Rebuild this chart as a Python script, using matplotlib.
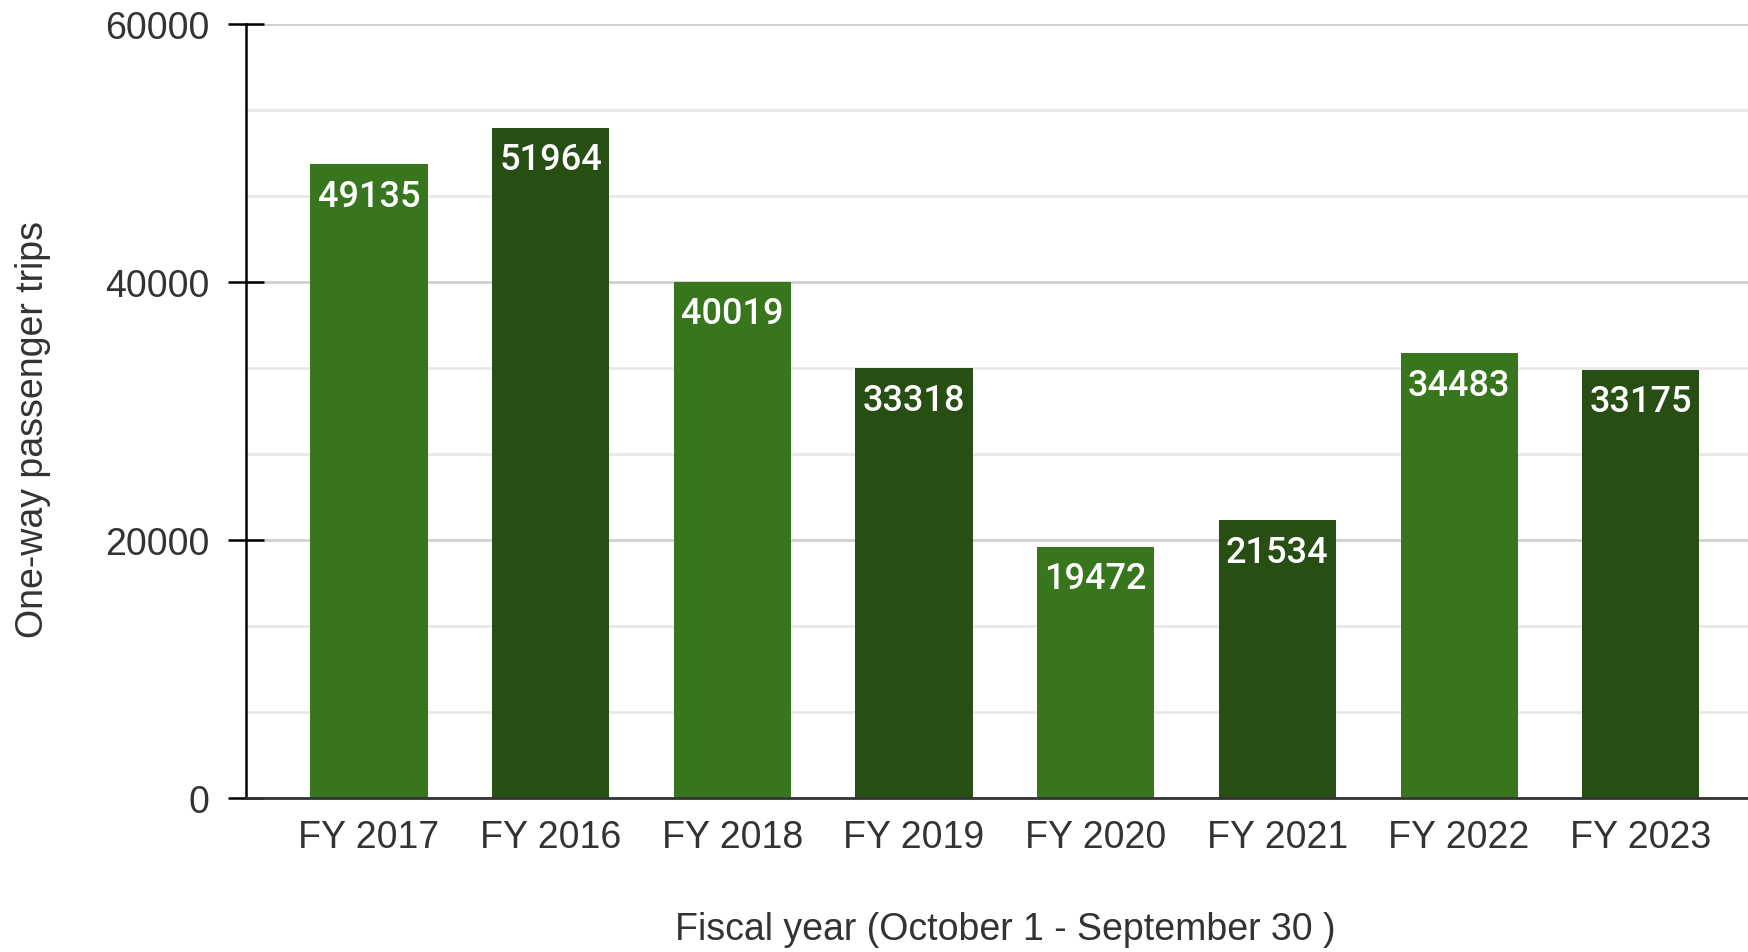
import matplotlib.pyplot as plt
import numpy as np

plt.rcParams['font.family'] = ['Liberation Sans', 'DejaVu Sans']

# data
years = ['FY 2017', 'FY 2016', 'FY 2018', 'FY 2019',
         'FY 2020', 'FY 2021', 'FY 2022', 'FY 2023']
trips = [49135, 51964, 40019, 33318, 19472, 21534, 34483, 33175]
bar_colors = ['#38761d', '#274e13'] * 4

fig = plt.figure(figsize=(17.48, 9.53), dpi=100)
ax = fig.add_axes([0.1407, 0.1616, 1 - 0.1407, 0.9738 - 0.1616])

x = np.arange(len(years))
bars = ax.bar(x, trips, width=0.645, color=bar_colors, zorder=3)

# value labels inside the top of each bar
for b, v in zip(bars, trips):
    ax.annotate(str(v), (b.get_x() + b.get_width() / 2, v),
                xytext=(0, -23), textcoords='offset points',
                ha='center', va='center', color='white',
                fontsize=26, fontweight='medium', family=['Roboto'],
                zorder=4)

ax.set_xlim(-0.677, 7.59)
ax.set_ylim(0, 60000)
ax.set_yticks([0, 20000, 40000, 60000])
ax.set_yticks(np.arange(0, 60001, 20000 / 3), minor=True)
ax.set_xticks(x)
ax.set_xticklabels(years)

ax.grid(True, axis='y', which='major', color='#d0d0d0', lw=2, zorder=0)
ax.grid(True, axis='y', which='minor', color='#e8e8e8', lw=2, zorder=0)

for s in ['top', 'right']:
    ax.spines[s].set_visible(False)
ax.spines['left'].set_color('black')
ax.spines['left'].set_linewidth(1.8)
ax.spines['bottom'].set_color('#333333')
ax.spines['bottom'].set_linewidth(2)
ax.spines['bottom'].set_zorder(5)

ax.tick_params(axis='y', which='major', direction='inout', length=26,
               width=1.8, color='black', labelsize=27, labelcolor='#333333',
               pad=13)
ax.tick_params(axis='y', which='minor', length=0)
ax.tick_params(axis='x', length=0, labelsize=27, labelcolor='#333333', pad=15)

ax.set_xlabel('Fiscal year (October 1 - September 30 )', fontsize=27,
              color='#333333')
ax.set_ylabel('One-way passenger trips', fontsize=27, color='#333333')
ax.xaxis.set_label_coords(0.5057, -0.146)
ax.yaxis.set_label_coords(-0.13, 0.477)

fig.savefig('out.png', dpi=100)
